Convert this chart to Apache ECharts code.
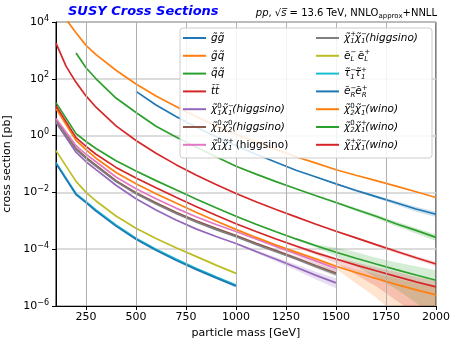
<!DOCTYPE html>
<html>
<head>
<meta charset="utf-8">
<script src="https://cdn.jsdelivr.net/npm/echarts@6/dist/echarts.min.js"></script>
<style>
  html, body { margin: 0; padding: 0; background: #fff; }
  #chart { width: 452px; height: 339px; }
</style>
</head>
<body>
<div id="chart"></div>
<script>
// masses [GeV] and cross sections [pb]
const massGrid = [100, 150, 200, 250, 300, 400, 500, 600, 700, 800, 900, 1000, 1100, 1200, 1300, 1400, 1500, 1600, 1700, 1800, 1900, 2000];

const xsGluGlu = [null, null, null, null, null, null, 36, 12, 4.7, 2.0, 0.91, 0.44, 0.22, 0.115, 0.060, 0.035, 0.020, 0.0117, 0.0071, 0.0043, 0.0026, 0.0017];
const xsGluSq = [null, 12600, 4200, 1500, 710, 200, 66, 25, 10.5, 4.7, 2.24, 1.12, 0.59, 0.32, 0.18, 0.107, 0.063, 0.040, 0.026, 0.0166, 0.0105, 0.0066];
const xsSqSq = [null, null, 810, 245, 100, 21, 6.5, 2.14, 0.89, 0.40, 0.18, 0.083, 0.044, 0.024, 0.0135, 7.6e-3, 4.4e-3, 2.5e-3, 1.45e-3, 7.9e-4, 4.6e-4, 2.6e-4];
const xsStop = [1800, 280, 75, 25, 10, 2.2, 0.67, 0.24, 0.095, 0.041, 0.019, 0.0092, 0.0047, 0.0025, 0.00138, 7.6e-4, 4.3e-4, 2.5e-4, 1.45e-4, 8.5e-5, 5.0e-5, 3.0e-5];

const xsHigN1C1m = [2.9, null, 0.26, 0.12, 0.063, 0.0178, 6.0e-3, 2.4e-3, 1.07e-3, 5.2e-4, 2.8e-4, 1.58e-4, 8.3e-5, 4.4e-5, 2.3e-5, 1.2e-5, 6.5e-6, null, null, null, null, null];
const xsHigN1N2 = [3.4, null, 0.355, 0.17, 0.091, 0.026, 9.8e-3, 4.3e-3, 2.0e-3, 1.0e-3, 5.4e-4, 3.0e-4, 1.62e-4, 8.9e-5, 4.9e-5, 2.6e-5, 1.45e-5, null, null, null, null, null];
const xsHigN1C1p = [4.0, null, 0.44, 0.22, 0.12, 0.035, 0.0135, 6.0e-3, 2.8e-3, 1.38e-3, 7.4e-4, 4.2e-4, 2.3e-4, 1.26e-4, 6.9e-5, 3.8e-5, 2.1e-5, null, null, null, null, null];
const xsHigC1C1 = [3.15, null, 0.325, 0.155, 0.083, 0.024, 8.9e-3, 3.9e-3, 1.82e-3, 9.1e-4, 4.9e-4, 2.75e-4, 1.48e-4, 8.1e-5, 4.5e-5, 2.4e-5, 1.32e-5, null, null, null, null, null];

const xsSelL = [0.295, null, 0.0245, 0.010, 5.0e-3, 1.48e-3, 5.5e-4, 2.4e-4, 1.12e-4, 5.6e-5, 2.75e-5, 1.41e-5, null, null, null, null, null, null, null, null, null, null];
const xsStau = [0.112, null, 9.1e-3, 4.7e-3, 2.4e-3, 7.1e-4, 2.45e-4, 1.0e-4, 4.5e-5, 2.14e-5, 1.07e-5, 5.5e-6, null, null, null, null, null, null, null, null, null, null];
const xsSelR = [0.104, null, 8.4e-3, 4.35e-3, 2.2e-3, 6.5e-4, 2.25e-4, 9.2e-5, 4.1e-5, 1.95e-5, 9.8e-6, 5.0e-6, null, null, null, null, null, null, null, null, null, null];

const xsWinoN2C1m = [8.9, null, 0.68, 0.32, 0.16, 0.050, 0.020, 8.9e-3, 4.2e-3, 2.0e-3, 9.8e-4, 5.0e-4, 2.6e-4, 1.41e-4, 7.9e-5, 4.5e-5, 2.5e-5, 1.51e-5, 9.3e-6, 5.8e-6, 3.7e-6, 2.45e-6];
const xsWinoN2C1p = [14.5, null, 1.17, 0.62, 0.35, 0.13, 0.057, 0.026, 0.0123, 5.9e-3, 2.9e-3, 1.45e-3, 7.6e-4, 4.1e-4, 2.3e-4, 1.32e-4, 7.8e-5, 4.8e-5, 3.0e-5, 1.9e-5, 1.23e-5, 8.1e-6];
const xsWinoC1C1 = [11.2, null, 0.85, 0.42, 0.22, 0.076, 0.032, 0.0145, 6.8e-3, 3.2e-3, 1.58e-3, 7.9e-4, 4.2e-4, 2.3e-4, 1.29e-4, 7.4e-5, 4.5e-5, 2.75e-5, 1.74e-5, 1.1e-5, 7.1e-6, 4.7e-6];

// uncertainty bands (lo / hi) on the high-mass part
const bandMass = [1000, 1100, 1200, 1300, 1400, 1500, 1600, 1700, 1800, 1900, 2000];
const bandGluGluLo = [null, null, null, null, 0.0335, 0.0188, 0.0107, 0.0063, 0.0037, 0.0021, 0.00135];
const bandGluGluHi = [null, null, null, null, 0.0365, 0.0212, 0.0128, 0.0080, 0.0050, 0.0031, 0.0021];
const bandSqSqLo = [null, null, null, null, 7.2e-3, 4.0e-3, 2.2e-3, 1.22e-3, 6.4e-4, 3.6e-4, 1.95e-4];
const bandSqSqHi = [null, null, null, null, 8.0e-3, 4.8e-3, 2.8e-3, 1.68e-3, 9.4e-4, 5.6e-4, 3.3e-4];
const bandStopLo = [null, null, null, null, 7.2e-4, 4.0e-4, 2.3e-4, 1.3e-4, 7.4e-5, 4.3e-5, 2.5e-5];
const bandStopHi = [null, null, null, null, 8.0e-4, 4.6e-4, 2.7e-4, 1.6e-4, 9.6e-5, 5.8e-5, 3.6e-5];
const bandHigN1C1pLo = [3.9e-4, 2.1e-4, 1.12e-4, 5.9e-5, 3.1e-5, 1.6e-5, null, null, null, null, null];
const bandHigN1C1pHi = [4.5e-4, 2.5e-4, 1.4e-4, 7.9e-5, 4.5e-5, 2.6e-5, null, null, null, null, null];
const bandHigN1N2Lo = [2.8e-4, 1.48e-4, 7.9e-5, 4.2e-5, 2.1e-5, 1.1e-5, null, null, null, null, null];
const bandHigN1N2Hi = [3.2e-4, 1.76e-4, 1.0e-4, 5.7e-5, 3.2e-5, 1.9e-5, null, null, null, null, null];
const bandHigN1C1mLo = [1.45e-4, 7.3e-5, 3.7e-5, 1.8e-5, 8.6e-6, 4.2e-6, null, null, null, null, null];
const bandHigN1C1mHi = [1.72e-4, 9.4e-5, 5.2e-5, 2.9e-5, 1.6e-5, 9.5e-6, null, null, null, null, null];
const bandWinoN2C1mLo = [4.8e-4, 2.45e-4, 1.3e-4, 7.0e-5, 3.8e-5, 2.0e-5, 6.3e-6, 2.0e-6, 5e-7, 1.5e-7, 5e-8];
const bandWinoN2C1mHi = [5.2e-4, 2.75e-4, 1.52e-4, 8.8e-5, 5.2e-5, 3.0e-5, 2.0e-5, 1.35e-5, 9.3e-6, 6.3e-6, 4.5e-6];
const bandWinoN2C1pLo = [1.4e-3, 7.2e-4, 3.85e-4, 2.1e-4, 1.15e-4, 5.6e-5, 2.5e-5, 1.0e-5, 4.0e-6, 1.3e-6, 4e-7];
const bandWinoN2C1pHi = [1.5e-3, 8.0e-4, 4.4e-4, 2.5e-4, 1.5e-4, 1.12e-4, 7.9e-5, 5.0e-5, 3.5e-5, 2.5e-5, 1.8e-5];
const bandWinoC1C1Lo = [7.6e-4, 4.0e-4, 2.15e-4, 1.17e-4, 6.4e-5, 3.2e-5, 1.26e-5, 5.0e-6, 1.6e-6, 5e-7, 1.6e-7];
const bandWinoC1C1Hi = [8.2e-4, 4.4e-4, 2.45e-4, 1.42e-4, 8.4e-5, 5.0e-5, 3.4e-5, 2.3e-5, 1.6e-5, 1.07e-5, 7.6e-6];

const xTickValues = [250, 500, 750, 1000, 1250, 1500, 1750, 2000];

const FONT = 'DejaVu Sans';

const curves = [
  { key: 'gg', xs: xsGluGlu, color: '#1f77b4', label: '{i|g̃g̃}' },
  { key: 'gq', xs: xsGluSq, color: '#ff7f0e', label: '{i|g̃q̃}' },
  { key: 'qq', xs: xsSqSq, color: '#2ca02c', label: '{i|q̃q̃}' },
  { key: 'tt', xs: xsStop, color: '#d62728', label: '{i|t̃t̃}' },
  { key: 'hN1C1m', xs: xsHigN1C1m, color: '#9467bd', label: '{i|χ̃}{u|0}{d|1}{i|χ̃}{u|−}{d|1}{i|(higgsino)}' },
  { key: 'hN1N2', xs: xsHigN1N2, color: '#8c564b', label: '{i|χ̃}{u|0}{d|1}{i|χ̃}{u|0}{d|2}{i|(higgsino)}' },
  { key: 'hN1C1p', xs: xsHigN1C1p, color: '#e377c2', label: '{i|χ̃}{u|0}{d|1}{i|χ̃}{u|+}{d|1}{n| (higgsino)}' },
  { key: 'hC1C1', xs: xsHigC1C1, color: '#7f7f7f', label: '{i|χ̃}{u|+}{d|1}{i|χ̃}{u|−}{d|1}{i|(higgsino)}' },
  { key: 'eL', xs: xsSelL, color: '#bcbd22', label: '{i|ẽ}{u|−}{d|L}{i| ẽ}{u|+}{d|L}' },
  { key: 'stau', xs: xsStau, color: '#17becf', label: '{i|τ̃}{u|−}{d|1}{i|τ̃}{u|+}{d|1}' },
  { key: 'eR', xs: xsSelR, color: '#1f77b4', label: '{i|ẽ}{u|−}{d|R}{i|ẽ}{u|+}{d|R}' },
  { key: 'wN2C1m', xs: xsWinoN2C1m, color: '#ff7f0e', label: '{i|χ̃}{u|0}{d|2}{i|χ̃}{u|−}{d|1}{i|(wino)}' },
  { key: 'wN2C1p', xs: xsWinoN2C1p, color: '#2ca02c', label: '{i|χ̃}{u|0}{d|2}{i|χ̃}{u|+}{d|1}{i|(wino)}' },
  { key: 'wC1C1', xs: xsWinoC1C1, color: '#d62728', label: '{i|χ̃}{u|+}{d|1}{i|χ̃}{u|−}{d|1}{i|(wino)}' },
];

const bands = [
  [bandGluGluLo, bandGluGluHi, 'rgba(31,119,180,0.22)'],
  [bandSqSqLo, bandSqSqHi, 'rgba(44,160,44,0.22)'],
  [bandStopLo, bandStopHi, 'rgba(214,39,40,0.18)'],
  [bandHigN1C1pLo, bandHigN1C1pHi, 'rgba(227,119,194,0.22)'],
  [bandHigN1N2Lo, bandHigN1N2Hi, 'rgba(140,86,75,0.2)'],
  [bandHigN1C1mLo, bandHigN1C1mHi, 'rgba(148,103,189,0.22)'],
  [bandWinoN2C1mLo, bandWinoN2C1mHi, 'rgba(255,127,14,0.2)'],
  [bandWinoN2C1pLo, bandWinoN2C1pHi, 'rgba(44,160,44,0.2)'],
  [bandWinoC1C1Lo, bandWinoC1C1Hi, 'rgba(214,39,40,0.2)'],
];

const labelMap = {};
curves.forEach(c => { labelMap[c.key] = c.label; });

const legendRich = {
  i: { fontFamily: FONT, fontStyle: 'italic', fontSize: 10.5, lineHeight: 14, color: '#000' },
  n: { fontFamily: FONT, fontSize: 10.5, lineHeight: 14, color: '#000' },
  u: { fontFamily: FONT, fontSize: 7, lineHeight: 8, verticalAlign: 'top', width: 0.01, color: '#000' },
  d: { fontFamily: FONT, fontStyle: 'italic', fontSize: 7, lineHeight: 8, verticalAlign: 'bottom', color: '#000' },
};

const series = [];

// vertical grid lines
series.push({
  type: 'line',
  data: [[100, 1e-6]],
  symbol: 'none',
  lineStyle: { opacity: 0 },
  silent: true,
  z: 0,
  markLine: {
    silent: true,
    symbol: 'none',
    label: { show: false },
    animation: false,
    lineStyle: { color: '#b0b0b0', width: 1, type: 'solid' },
    data: xTickValues.map(v => ({ xAxis: v })),
  },
});

bands.forEach(([lo, hi, fill]) => {
  series.push({
    type: 'custom',
    silent: true,
    clip: true,
    z: 1,
    data: [[1500, 1e-3]],
    renderItem: (params, api) => {
      const upper = [];
      const lower = [];
      bandMass.forEach((m, i) => {
        if (lo[i] == null) return;
        upper.push(api.coord([m, hi[i]]));
        lower.unshift(api.coord([m, lo[i]]));
      });
      return { type: 'polygon', shape: { points: upper.concat(lower) }, style: { fill } };
    },
  });
});

curves.forEach(c => {
  series.push({
    name: c.key,
    type: 'line',
    data: massGrid.map((m, i) => (c.xs[i] == null ? null : [m, c.xs[i]])).filter(Boolean),
    symbol: 'none',
    clip: true,
    z: 2,
    color: c.color,
    lineStyle: { color: c.color, width: 1.7 },
  });
});

const legendBase = {
  orient: 'vertical',
  icon: 'rect',
  itemWidth: 23,
  itemHeight: 2,
  itemGap: 3.8,
  padding: 0,
  top: 31,
  selectedMode: false,
  z: 20,
  formatter: name => labelMap[name],
  textStyle: { fontFamily: FONT, fontSize: 10.5, lineHeight: 14, rich: legendRich },
};

const chart = echarts.init(document.getElementById('chart'), null, { renderer: 'canvas' });
chart.setOption({
  animation: false,
  backgroundColor: '#fff',
  title: [
    {
      text: 'SUSY Cross Sections',
      left: 68, top: 5, padding: 0,
      textStyle: { color: '#0000ff', fontStyle: 'italic', fontWeight: 'bold', fontSize: 13, fontFamily: FONT },
    },
    {
      text: '{i|pp}{n|, √}{i|s̅}{n| = 13.6 TeV, NNLO}{d|approx}{n|+NNLL}',
      right: 15, top: 6, padding: 0,
      textStyle: {
        fontFamily: FONT, fontSize: 10, fontWeight: 'normal', lineHeight: 14,
        rich: {
          i: { fontFamily: FONT, fontStyle: 'italic', fontWeight: 'normal', fontSize: 10, lineHeight: 14, color: '#000' },
          n: { fontFamily: FONT, fontWeight: 'normal', fontSize: 10, lineHeight: 14, color: '#000' },
          d: { fontFamily: FONT, fontWeight: 'normal', fontSize: 7, lineHeight: 9, verticalAlign: 'bottom', color: '#000' },
        },
      },
    },
  ],
  grid: {
    left: 56, right: 16, top: 22, bottom: 33,
    outerBoundsMode: 'none', containLabel: false,
    show: true, borderColor: '#000', borderWidth: 1, backgroundColor: 'transparent',
  },
  xAxis: {
    type: 'value',
    min: 100,
    max: 2000,
    name: 'particle mass [GeV]',
    nameLocation: 'middle',
    nameGap: 21,
    nameTextStyle: { fontFamily: FONT, fontSize: 11, color: '#000' },
    axisLine: { show: true, lineStyle: { color: '#000', width: 1 } },
    axisTick: { show: true, length: 4, customValues: xTickValues, lineStyle: { color: '#000' } },
    axisLabel: { customValues: xTickValues, formatter: v => String(v), margin: 6, fontFamily: FONT, fontSize: 11, color: '#000' },
    splitLine: { show: false },
  },
  yAxis: {
    type: 'log',
    logBase: 10,
    min: 1e-6,
    max: 1e4,
    interval: 2,
    name: 'cross section [pb]',
    nameLocation: 'middle',
    nameGap: 38,
    nameTextStyle: { fontFamily: FONT, fontSize: 11, color: '#000' },
    axisLine: { show: true, lineStyle: { color: '#000', width: 1 } },
    axisTick: { show: true, length: 4, lineStyle: { color: '#000' } },
    axisLabel: {
      margin: 7,
      formatter: v => {
        const e = Math.round(Math.log10(v));
        return '{b|10}{e|' + (e < 0 ? '−' + (-e) : e) + '}';
      },
      rich: {
        b: { fontFamily: FONT, fontSize: 11, lineHeight: 15, color: '#000' },
        e: { fontFamily: FONT, fontSize: 8, lineHeight: 9, verticalAlign: 'top', color: '#000' },
      },
    },
    splitLine: { show: true, lineStyle: { color: '#d0d0d0', width: 1.5 } },
  },
  legend: [
    Object.assign({}, legendBase, { left: 183, data: curves.slice(0, 7).map(c => c.key) }),
    Object.assign({}, legendBase, { left: 316, data: curves.slice(7).map(c => c.key) }),
  ],
  graphic: [
    {
      type: 'rect',
      z: 15,
      shape: { x: 180, y: 28, width: 252, height: 130, r: 3 },
      style: { fill: 'rgba(255,255,255,0.85)', stroke: '#cccccc', lineWidth: 1 },
    },
  ],
  series,
});
</script>
</body>
</html>
